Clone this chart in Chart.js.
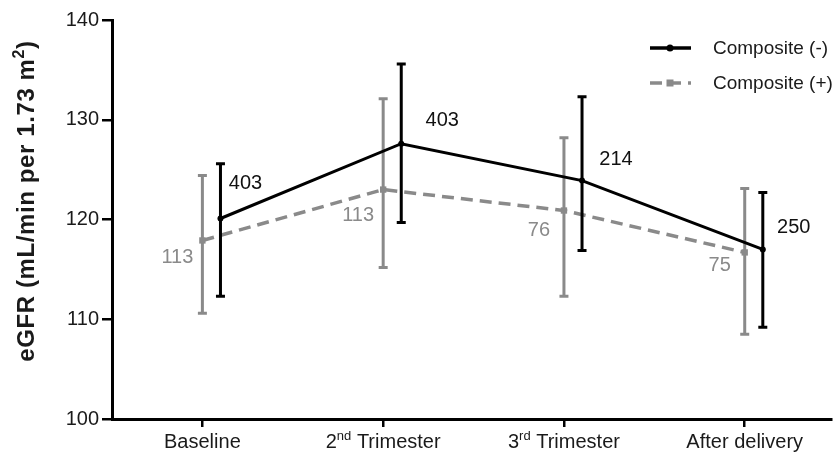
<!DOCTYPE html>
<html>
<head>
<meta charset="utf-8">
<script src="https://cdn.jsdelivr.net/npm/chart.js@4.4.1/dist/chart.umd.min.js"></script>
<style>
  html, body { margin: 0; padding: 0; background: #ffffff; }
  #wrap { width: 836px; height: 453px; }
</style>
</head>
<body>
<div id="wrap"><canvas id="c" width="836" height="453"></canvas></div>
<script>
// ---- data ----
const categories = ['Baseline', '2nd Trimester', '3rd Trimester', 'After delivery'];
const seriesNames = ['Composite (-)', 'Composite (+)'];
const negMean = [120.1, 127.6, 123.9, 117.0];
const negLow  = [112.3, 119.7, 116.9, 109.2];
const negHigh = [125.6, 135.6, 132.3, 122.7];
const negN    = ['403', '403', '214', '250'];
const posMean = [117.9, 123.0, 120.9, 116.7];
const posLow  = [110.6, 115.2, 112.3, 108.5];
const posHigh = [124.4, 132.1, 128.2, 123.1];
const posN    = ['113', '113', '76', '75'];
const yTicks  = [100, 110, 120, 130, 140];
const yTitle  = 'eGFR (mL/min per 1.73 m²)';

// ---- styles ----
const FONT = '"Liberation Sans", Arial, Helvetica, sans-serif';
const BLACK = '#000000';
const GRAY = '#8a8a8a';
const negShift = 0.1;   // horizontal dodge of the black series (category units)
const posShift = 0.0;

// rich text: ordinal suffixes and ² drawn as superscripts
function segmentsOf(text) {
  const segs = [];
  const re = /(\d)(st|nd|rd|th)\b|²/g;
  let last = 0, m;
  while ((m = re.exec(text)) !== null) {
    if (m[0] === '²') {
      segs.push({ t: text.slice(last, m.index), sup: false });
      segs.push({ t: '2', sup: true });
      last = m.index + 1;
    } else {
      segs.push({ t: text.slice(last, m.index + 1), sup: false });
      segs.push({ t: m[2], sup: true });
      last = m.index + m[0].length;
    }
  }
  segs.push({ t: text.slice(last), sup: false });
  return segs.filter(s => s.t.length);
}
function drawRich(ctx, text, x, y, size, weight, color, spacing) {
  const segs = segmentsOf(text);
  const supSize = Math.round(size * 0.65);
  const fontFor = s => `${weight} ${s.sup ? supSize : size}px ${FONT}`;
  if ('letterSpacing' in ctx) ctx.letterSpacing = (spacing || 0) + 'px';
  let total = 0;
  segs.forEach(s => { ctx.font = fontFor(s); s.w = ctx.measureText(s.t).width; total += s.w; });
  let cx = x - total / 2;
  ctx.fillStyle = color;
  ctx.textAlign = 'left';
  ctx.textBaseline = 'alphabetic';
  segs.forEach(s => {
    ctx.font = fontFor(s);
    ctx.fillText(s.t, cx, s.sup ? y - size * 0.42 : y);
    cx += s.w;
  });
  if ('letterSpacing' in ctx) ctx.letterSpacing = '0px';
}

const errorBarPlugin = {
  id: 'errorBars',
  beforeDatasetDraw(chart, args) {
    const ds = chart.data.datasets[args.index];
    if (!ds.errLow) return;
    const ctx = chart.ctx, ys = chart.scales.y;
    const cap = 4.5;
    ctx.save();
    ctx.strokeStyle = ds.borderColor;
    ctx.lineWidth = 3;
    ctx.setLineDash([]);
    ctx.lineCap = 'butt';
    args.meta.data.forEach((pt, i) => {
      const yl = ys.getPixelForValue(ds.errLow[i]);
      const yh = ys.getPixelForValue(ds.errHigh[i]);
      ctx.beginPath();
      ctx.moveTo(pt.x, yl); ctx.lineTo(pt.x, yh);
      ctx.moveTo(pt.x - cap, yl); ctx.lineTo(pt.x + cap, yl);
      ctx.moveTo(pt.x - cap, yh); ctx.lineTo(pt.x + cap, yh);
      ctx.stroke();
    });
    ctx.restore();
  }
};

const labelPlugin = {
  id: 'nLabels',
  afterDatasetsDraw(chart) {
    const ctx = chart.ctx;
    chart.data.datasets.forEach((ds, di) => {
      if (!ds.nLabels) return;
      const meta = chart.getDatasetMeta(di);
      ctx.save();
      ctx.font = `20px ${FONT}`;
      ctx.fillStyle = ds.labelColor;
      ctx.textAlign = 'center';
      ctx.textBaseline = 'middle';
      meta.data.forEach((pt, i) => {
        ctx.fillText(ds.nLabels[i], pt.x + ds.labelDx[i], pt.y + ds.labelDy[i]);
      });
      ctx.restore();
    });
  }
};

const decorPlugin = {
  id: 'decor',
  afterDraw(chart) {
    const ctx = chart.ctx;
    const xs = chart.scales.x;
    ctx.save();
    // x category labels (with superscripts)
    categories.forEach((c, i) => {
      drawRich(ctx, c, xs.getPixelForValue(i), 448, 20, 'normal', '#1a1a1a', 0);
    });
    // y axis title, rotated
    ctx.save();
    ctx.translate(34, 201);
    ctx.rotate(-Math.PI / 2);
    drawRich(ctx, yTitle, 0, 0, 24, 'bold', '#1a1a1a', 0.6);
    ctx.restore();
    // legend
    const rows = [
      { name: seriesNames[0], color: BLACK, dash: [], y: 48, style: 'circle', width: 3.5 },
      { name: seriesNames[1], color: GRAY, dash: [12, 7], y: 83, style: 'rect', width: 3.5 }
    ];
    rows.forEach(r => {
      ctx.save();
      ctx.strokeStyle = r.color;
      ctx.lineWidth = r.width;
      ctx.setLineDash(r.dash);
      ctx.beginPath();
      ctx.moveTo(650, r.y); ctx.lineTo(691, r.y);
      ctx.stroke();
      ctx.setLineDash([]);
      ctx.fillStyle = r.color;
      if (r.style === 'circle') {
        ctx.beginPath(); ctx.arc(670, r.y, 3.5, 0, Math.PI * 2); ctx.fill();
      } else {
        ctx.fillRect(666.5, r.y - 3.5, 7, 7);
      }
      ctx.restore();
      ctx.font = `19px ${FONT}`;
      ctx.fillStyle = '#1a1a1a';
      ctx.textAlign = 'left';
      ctx.textBaseline = 'middle';
      ctx.fillText(r.name, 713, r.y + 1);
    });
    ctx.restore();
  }
};

const negData = categories.map((c, i) => ({ x: i + negShift, y: negMean[i] }));
const posData = categories.map((c, i) => ({ x: i + posShift, y: posMean[i] }));

new Chart(document.getElementById('c'), {
  type: 'line',
  data: {
    datasets: [
      {
        label: seriesNames[0],
        data: negData,
        errLow: negLow, errHigh: negHigh,
        nLabels: negN, labelColor: '#111111',
        labelDx: [25, 41, 34, 31], labelDy: [-35, -23, -21, -22],
        borderColor: BLACK, backgroundColor: BLACK,
        borderWidth: 3, pointRadius: 3, pointHoverRadius: 3,
        pointStyle: 'circle', pointBorderWidth: 0, tension: 0, clip: false
      },
      {
        label: seriesNames[1],
        data: posData,
        errLow: posLow, errHigh: posHigh,
        nLabels: posN, labelColor: GRAY,
        labelDx: [-25, -25, -25, -25], labelDy: [17, 26, 20, 13],
        borderColor: GRAY, backgroundColor: GRAY,
        borderWidth: 3.5, borderDash: [12, 7],
        pointRadius: 4.5, pointHoverRadius: 4.5,
        pointStyle: 'rect', pointBorderWidth: 0, tension: 0, clip: false
      }
    ]
  },
  options: {
    responsive: false,
    animation: false,
    devicePixelRatio: 1,
    layout: { padding: { top: 20, right: 0, bottom: 0, left: 0 } },
    plugins: { legend: { display: false }, tooltip: { enabled: false } },
    events: [],
    scales: {
      x: {
        type: 'linear',
        min: -0.5, max: 3.48,
        afterBuildTicks: s => { s.ticks = categories.map((c, i) => ({ value: i })); },
        afterFit: s => { s.height = 34; },
        ticks: { display: false },
        grid: { display: true, drawOnChartArea: false, drawTicks: true, tickLength: 8, lineWidth: 2.5, color: BLACK },
        border: { display: true, width: 3, color: BLACK }
      },
      y: {
        type: 'linear',
        min: yTicks[0], max: yTicks[yTicks.length - 1],
        afterBuildTicks: s => { s.ticks = yTicks.map(v => ({ value: v })); },
        afterFit: s => { s.width = 112; },
        ticks: { font: { size: 20, family: FONT }, color: '#1a1a1a', padding: 3 },
        grid: { display: true, drawOnChartArea: false, drawTicks: true, tickLength: 10, lineWidth: 2.5, color: BLACK },
        border: { display: true, width: 3, color: BLACK }
      }
    }
  },
  plugins: [errorBarPlugin, labelPlugin, decorPlugin]
});
</script>
</body>
</html>
